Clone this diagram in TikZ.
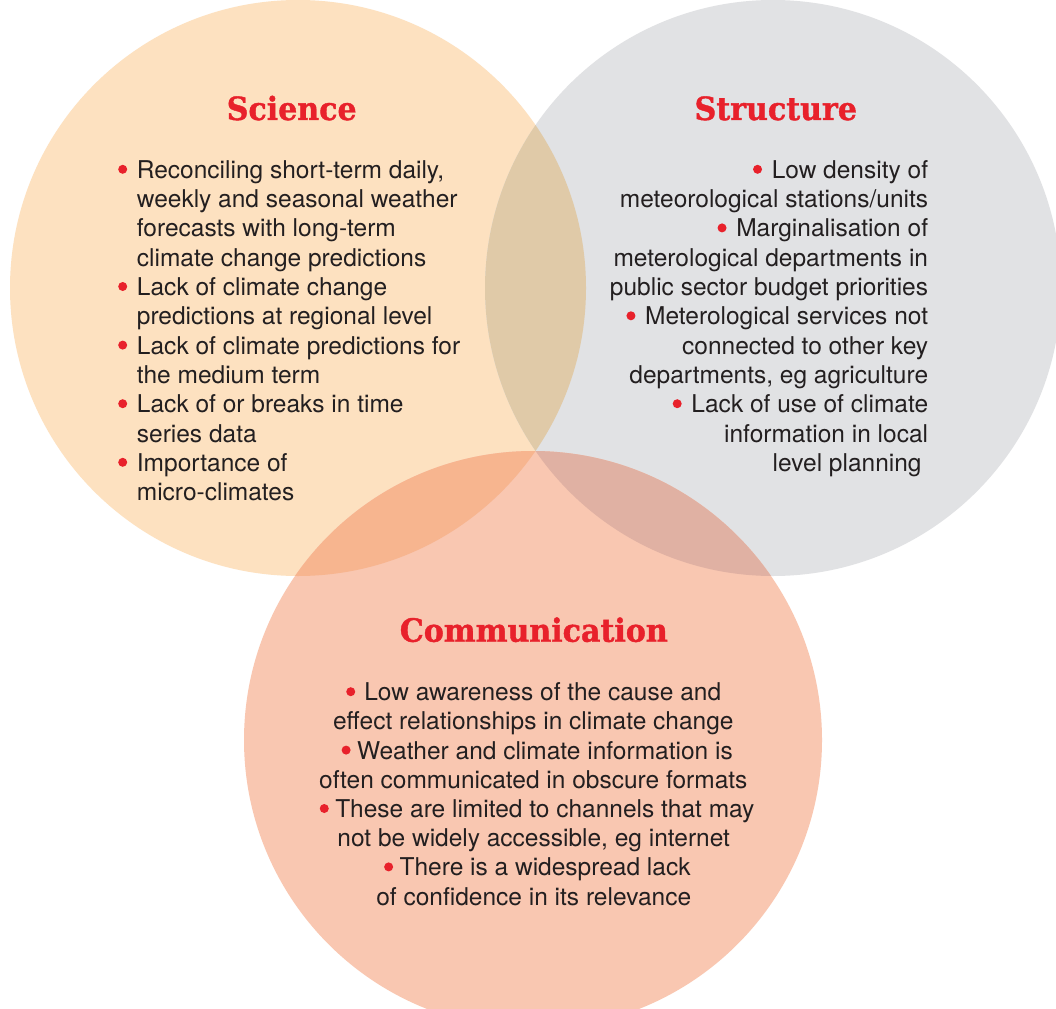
\documentclass[tikz,border=0pt]{standalone}
\usepackage{fontspec}
\setmainfont{TeX Gyre Heros}
\newfontfamily\titlefont[FakeStretch=0.94,FakeBold=1.2]{DejaVu Serif}
\definecolor{scifill}{HTML}{FDE1C0}
\definecolor{strfill}{HTML}{E1E2E4}
\definecolor{comfill}{HTML}{F9C7B1}
\definecolor{scistr}{HTML}{E0CAA8}
\definecolor{scicom}{HTML}{F7B58F}
\definecolor{strcom}{HTML}{E0B1A3}
\definecolor{titlered}{HTML}{E8212B}
\definecolor{textdark}{HTML}{231F20}
\begin{document}
\begin{tikzpicture}[x=1pt,y=-1pt,
  body/.style={inner sep=0pt, font=\fontsize{24.5}{29}\selectfont, text=textdark},
  ttl/.style={inner sep=0pt, anchor=base, font=\titlefont\bfseries\fontsize{32}{36}\selectfont, text=titlered},
  bulletdot/.style={fill=titlered}]
\useasboundingbox (0,0) rectangle (1056,1008);
\clip (0,0) rectangle (1056,1008);
\fill[white] (0,0) rectangle (1056,1008);
% circles
\coordinate (csci) at (298,288);
\coordinate (cstr) at (773,288);
\coordinate (ccom) at (533,740);
\fill[scifill] (csci) circle[radius=288pt];
\fill[strfill] (cstr) circle[radius=288pt];
\fill[comfill] (ccom) circle[radius=289pt];
% overlaps
\begin{scope}
  \clip (csci) circle[radius=288pt];
  \fill[scistr] (cstr) circle[radius=288pt];
\end{scope}
\begin{scope}
  \clip (csci) circle[radius=288pt];
  \fill[scicom] (ccom) circle[radius=289pt];
\end{scope}
\begin{scope}
  \clip (cstr) circle[radius=288pt];
  \fill[strcom] (ccom) circle[radius=289pt];
\end{scope}
% titles
\node[ttl] (tsci) at (291.7,120) {Science};
\node[ttl] (tstr) at (775.8,120) {Structure};
\node[ttl] (tcom) at (533.8,641.7) {Communication};
% science text
\foreach \t [count=\i] in {
  {Reconciling short-term daily,},
  {weekly and seasonal weather},
  {forecasts with long-term},
  {climate change predictions},
  {Lack of climate change},
  {predictions at regional level},
  {Lack of climate predictions for},
  {the medium term},
  {Lack of or breaks in time},
  {series data},
  {Importance of},
  {micro-climates}}
  \node[body, anchor=base west] (sci\i) at (136.7,{178.3+29.3*(\i-1)}) {\t};
\foreach \n in {sci1,sci5,sci7,sci9,sci11}
  \fill[bulletdot] ([xshift=-14pt,yshift=9pt]\n.base west) circle[radius=4.5pt];
% structure text
\foreach \t/\xx [count=\i] in {
  {\hspace{18.5pt}Low density of}/928.3,
  {meteorological stations/units}/928.3,
  {\hspace{18.5pt}Marginalisation of}/928.3,
  {meterological departments in}/928.3,
  {public sector budget priorities}/928.3,
  {\hspace{18.5pt}Meterological services not}/928.3,
  {connected to other key}/928.3,
  {departments, eg agriculture}/928.3,
  {\hspace{18.5pt}Lack of use of climate}/928.3,
  {information in local}/928.3,
  {level planning}/921.8}
  \node[body, anchor=base east] (str\i) at (\xx,{178.3+29.3*(\i-1)}) {\t};
\foreach \n in {str1,str3,str6,str9}
  \fill[bulletdot] ([xshift=4.5pt,yshift=9pt]\n.base west) circle[radius=4.5pt];
% communication text
\foreach \t/\xx [count=\i] in {
  {\hspace{17.9pt}Low awareness of the cause and}/533.8,
  {effect relationships in climate change}/533.3,
  {\hspace{15.3pt}Weather and climate information is}/537.3,
  {often communicated in obscure formats}/533.3,
  {\hspace{15.3pt}These are limited to channels that may}/537.2,
  {not be widely accessible, eg internet}/533.7,
  {\hspace{15.3pt}There is a widespread lack}/537.5,
  {of confidence in its relevance}/533.7}
  \node[body, anchor=base] (com\i) at (\xx,{700.7+29.2*(\i-1)}) {\t};
\foreach \n in {com1,com3,com5,com7}
  \fill[bulletdot] ([xshift=4.5pt,yshift=9pt]\n.base west) circle[radius=4.5pt];
\end{tikzpicture}
\end{document}
